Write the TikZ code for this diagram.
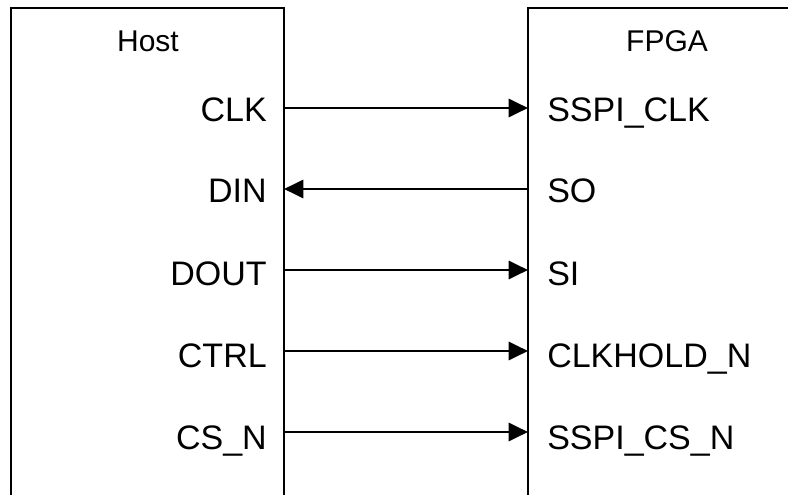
\documentclass[tikz,border=0pt]{standalone}
\usepackage{fontspec}
\setmainfont{Liberation Sans}
\usetikzlibrary{arrows.meta}
\begin{document}
\begin{tikzpicture}[x=0.75pt,y=-0.75pt,
  boxline/.style={line width=2.2pt,line cap=rect},
  sig/.style={line width=2.2pt,-{Triangle[length=14.5pt,width=13.5pt]}},
  title/.style={font=\fontsize{22.5}{26}\selectfont,inner sep=0pt},
  port/.style={font=\fontsize{25.5}{29}\selectfont,inner sep=0pt}]
\useasboundingbox (0,0) rectangle (788,495);
% boxes (open at the bottom / right)
\draw[boxline] (11,500) -- (11,8) -- (284,8) -- (284,500);
\draw[boxline] (528,500) -- (528,8) -- (792,8);
\node[title,anchor=base] (host) at (148,52) {Host};
\node[title,anchor=base] (fpga) at (667,52) {FPGA};
% port coordinates
\foreach \n/\y in {a/108,b/189,c/270,d/351,e/432}{
  \coordinate (h\n) at (284,\y);
  \coordinate (f\n) at (528,\y);
}
% left labels
\node[port,anchor=base east] (lclk) at (267,122) {CLK};
\node[port,anchor=base east] (ldin) at (267,203) {DIN};
\node[port,anchor=base east] (ldout) at (267,285) {DOUT};
\node[port,anchor=base east] (lctrl) at (267,367) {CTRL};
\node[port,anchor=base east] (lcs) at (267,449) {CS\_N};
% right labels
\node[port,anchor=base west] (rclk) at (547,122) {SSPI\_CLK};
\node[port,anchor=base west] (rso) at (547,203) {SO};
\node[port,anchor=base west] (rsi) at (547,285) {SI};
\node[port,anchor=base west] (rhold) at (547,367) {CLKHOLD\_N};
\node[port,anchor=base west] (rcs) at (547,449) {SSPI\_CS\_N};
% connectors
\draw[sig] (ha) -- (fa);
\draw[sig] (fb) -- (hb);
\draw[sig] (hc) -- (fc);
\draw[sig] (hd) -- (fd);
\draw[sig] (he) -- (fe);
\end{tikzpicture}
\end{document}
